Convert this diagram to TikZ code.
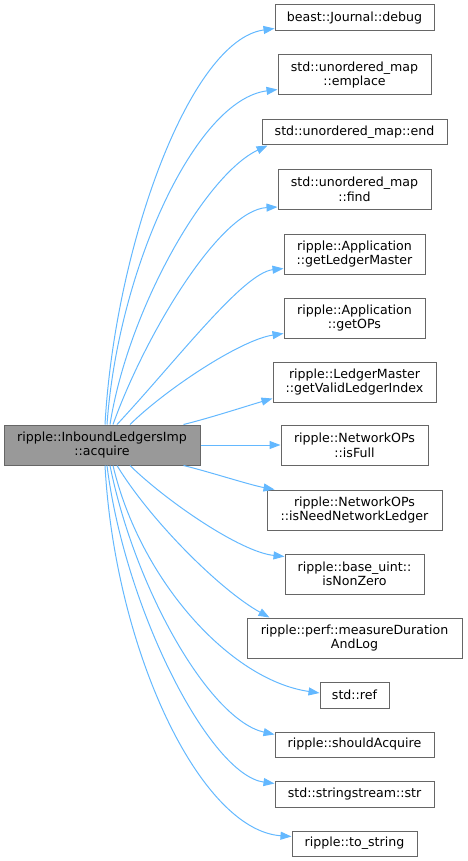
\documentclass[tikz,border=0pt]{standalone}
\usepackage{fontspec}
\setmainfont{DejaVu Sans}
\usetikzlibrary{arrows.meta}
\definecolor{edgeblue}{HTML}{63B8FF}
\definecolor{boxborder}{HTML}{666666}
\definecolor{mainfill}{HTML}{999999}
\tikzset{
  fnbox/.style={draw=boxborder, fill=white, line width=1pt, rectangle, inner sep=0pt, align=center,
    font=\fontsize{12.6}{14.5}\selectfont},
  mainbox/.style={fnbox, fill=mainfill},
  callarrow/.style={draw=edgeblue, line width=1pt, -{Triangle[length=11pt,width=8pt]}}
}
\begin{document}
\begin{tikzpicture}[x=1pt,y=-1pt]
\useasboundingbox (0,0) rectangle (467,861);
\node[mainbox, minimum width=196pt, minimum height=40pt] (main) at (102,445) {ripple::InboundLedgersImp\\::acquire};
\node[fnbox, minimum width=159pt, minimum height=26pt] (debug) at (354.5,18) {beast::Journal::debug};
\node[fnbox, minimum width=153pt, minimum height=40pt] (emplace) at (354.5,75) {std::unordered\_map\\::emplace};
\node[fnbox, minimum width=185pt, minimum height=25pt] (end) at (354.5,132.5) {std::unordered\_map::end};
\node[fnbox, minimum width=153pt, minimum height=40pt] (find) at (354.5,189.5) {std::unordered\_map\\::find};
\node[fnbox, minimum width=141pt, minimum height=40pt] (glm) at (354.5,254) {ripple::Application\\::getLedgerMaster};
\node[fnbox, minimum width=141pt, minimum height=40pt] (gops) at (354.5,318) {ripple::Application\\::getOPs};
\node[fnbox, minimum width=163pt, minimum height=40pt] (gvli) at (354.5,382) {ripple::LedgerMaster\\::getValidLedgerIndex};
\node[fnbox, minimum width=147pt, minimum height=40pt] (isfull) at (354.5,445.5) {ripple::NetworkOPs\\::isFull};
\node[fnbox, minimum width=175pt, minimum height=40pt] (isneed) at (354.5,510) {ripple::NetworkOPs\\::isNeedNetworkLedger};
\node[fnbox, minimum width=139pt, minimum height=40pt] (nonzero) at (354.5,574) {ripple::base\_uint::\\isNonZero};
\node[fnbox, minimum width=215pt, minimum height=40pt] (measure) at (354.5,638) {ripple::perf::measureDuration\\AndLog};
\node[fnbox, minimum width=69pt, minimum height=26pt] (ref) at (354.5,695) {std::ref};
\node[fnbox, minimum width=159pt, minimum height=25pt] (should) at (354.5,744.5) {ripple::shouldAcquire};
\node[fnbox, minimum width=159pt, minimum height=26pt] (str) at (354.5,794) {std::stringstream::str};
\node[fnbox, minimum width=125pt, minimum height=25pt] (tostr) at (354.5,843.5) {ripple::to\_string};

% upward edges
\draw[callarrow] ([xshift=3pt]main.north) .. controls (115,246) and (190,40) .. ([yshift=3pt]debug.south west);
\draw[callarrow] ([xshift=5pt]main.north) .. controls (118,270) and (195,100) .. ([yshift=6pt]emplace.south west);
\draw[callarrow] ([xshift=8pt]main.north) .. controls (128,310) and (205,175) .. ([xshift=6pt]end.south west);
\draw[callarrow] ([xshift=11pt]main.north) .. controls (145,335) and (220,210) .. ([yshift=3pt]find.south west);
\draw[callarrow] ([xshift=15pt]main.north) .. controls (177,360) and (243,273) .. ([yshift=6pt]glm.south west);
\draw[callarrow] ([xshift=28pt]main.north) .. controls (165,390) and (240,340) .. ([yshift=5pt]gops.south west);
\draw[callarrow] ([xshift=-17pt]main.north east) .. controls (210,418) and (250,405) .. ([yshift=4pt]gvli.south west);
% horizontal
\draw[callarrow] (main.east) -- (main.east -| isfull.west);
% downward edges
\draw[callarrow] ([xshift=-17pt]main.south east) .. controls (210,472) and (250,485) .. ([xshift=8pt]isneed.north west);
\draw[callarrow] ([xshift=28pt]main.south) .. controls (165,500) and (240,552) .. ([yshift=-3pt]nonzero.north west);
\draw[callarrow] ([xshift=15pt]main.south) .. controls (150,520) and (220,590) .. ([xshift=23pt]measure.north west);
\draw[callarrow] ([xshift=11pt]main.south) .. controls (140,580) and (230,680) .. ([yshift=2pt]ref.west);
\draw[callarrow] ([xshift=8pt]main.south) .. controls (135,590) and (210,720) .. ([yshift=-3pt]should.north west);
\draw[callarrow] ([xshift=5pt]main.south) .. controls (125,610) and (210,775) .. ([yshift=-3pt]str.north west);
\draw[callarrow] ([xshift=3pt]main.south) .. controls (115,650) and (200,830) .. ([yshift=-6pt]tostr.north west);
\end{tikzpicture}
\end{document}
